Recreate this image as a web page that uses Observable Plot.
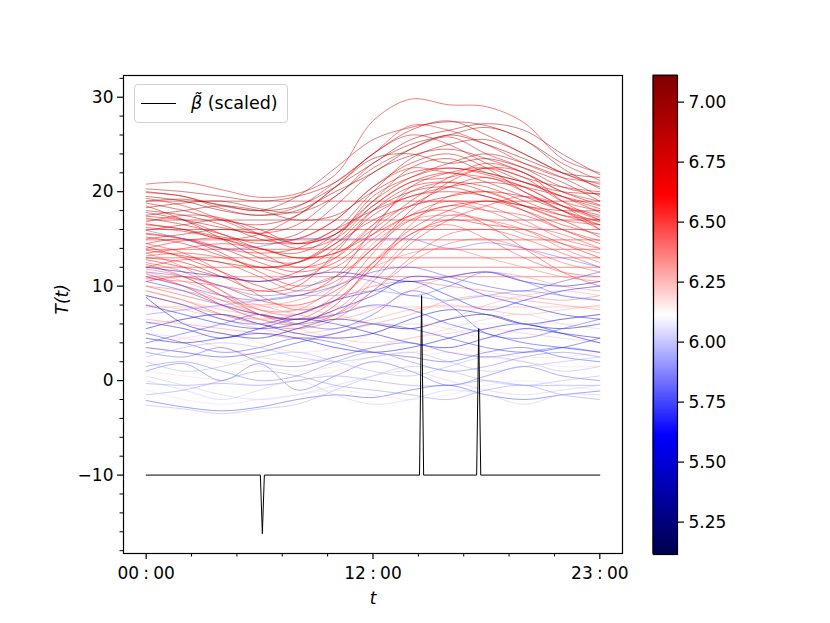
<!DOCTYPE html>
<html>
<head>
<meta charset="utf-8">
<script src="https://cdn.jsdelivr.net/npm/d3@7"></script>
<script src="https://cdn.jsdelivr.net/npm/@observablehq/plot@0.6"></script>
<style>
  body { margin: 0; background: #fff; }
  #fig { position: relative; width: 830px; height: 623px; font-family: "DejaVu Sans", sans-serif; }
  #main, #cbar { position: absolute; top: 0; }
  #main { left: 0; }
  #cbar { left: 640px; }
  #legend { position: absolute; left: 134px; top: 84px; width: 154px; height: 39px;
    border: 1px solid #d0d0d0; border-radius: 4px; background: rgba(255,255,255,0.85); box-sizing: border-box; }
  #legend .ln { position: absolute; left: 6px; top: 18px; width: 35px; border-top: 1px solid #000; }
  #legend .tx { position: absolute; left: 56px; top: 6px; font-size: 17.5px; line-height: 24px; color: #000; white-space: nowrap; }
</style>
</head>
<body>
<div id="fig">
  <div id="main"></div>
  <div id="cbar"></div>
  <div id="legend"><div class="ln"></div><div class="tx"><i>β̃</i> (scaled)</div></div>
</div>
<script>
// sample times (fraction of the day)
const times = [0, 0.083, 0.167, 0.25, 0.333, 0.417, 0.5, 0.583, 0.667, 0.75, 0.833, 0.917, 1];

// red curves (colour values) and their temperatures
const redColor = [6.7, 6.85, 6.6, 6.9, 6.75, 7.0, 6.95, 6.8, 6.7, 6.65, 6.6, 6.55, 6.5,
  6.9, 6.8, 6.7, 6.6, 6.75, 6.5, 6.6, 6.45, 6.55, 6.85, 7.05, 6.95, 6.65, 6.7, 6.55, 6.8,
  6.6, 6.9, 6.5, 6.75, 6.65, 6.85, 6.7, 6.95, 6.6, 6.45, 6.8, 6.55, 6.5,
  6.7, 6.95, 6.75, 6.55, 6.65, 6.85, 6.5, 6.6, 6.8, 6.45];
const redSeries = [
  [20.8, 21.0, 20.2, 19.4, 19.8, 21.8, 27.5, 29.8, 29.2, 29.0, 27.3, 23.5, 22.0],
  [19.0, 19.2, 18.6, 18.0, 19.5, 22.5, 25.5, 26.8, 27.4, 27.0, 25.5, 23.0, 21.2],
  [19.9, 19.5, 18.2, 17.5, 18.4, 21.0, 24.0, 27.0, 26.5, 25.0, 23.0, 21.5, 21.0],
  [18.3, 18.8, 19.0, 18.2, 17.8, 19.5, 23.0, 25.0, 26.0, 26.8, 25.5, 22.5, 20.3],
  [17.4, 17.0, 16.2, 15.6, 16.5, 19.5, 22.5, 24.5, 25.8, 24.0, 22.5, 20.5, 19.7],
  [19.0, 19.0, 19.0, 19.0, 19.0, 19.0, 19.0, 19.0, 19.0, 19.0, 19.0, 19.0, 19.0],
  [17.0, 17.0, 17.0, 17.0, 17.0, 17.0, 17.0, 17.0, 17.0, 17.0, 17.0, 17.0, 17.0],
  [16.0, 16.0, 16.0, 16.0, 16.0, 16.0, 16.0, 16.0, 16.0, 16.0, 16.0, 16.0, 16.0],
  [14.9, 14.9, 14.9, 14.9, 14.9, 14.9, 14.9, 14.9, 14.9, 14.9, 14.9, 14.9, 14.9],
  [13.9, 13.9, 13.9, 13.9, 13.9, 13.9, 13.9, 13.9, 13.9, 13.9, 13.9, 13.9, 13.9],
  [13.0, 13.0, 13.0, 13.0, 13.0, 13.0, 13.0, 13.0, 13.0, 13.0, 13.0, 13.0, 13.0],
  [12.0, 12.0, 12.0, 12.0, 12.0, 12.0, 12.0, 12.0, 12.0, 12.0, 12.0, 12.0, 12.0],
  [11.0, 11.0, 11.0, 11.0, 11.0, 11.0, 11.0, 11.0, 11.0, 11.0, 11.0, 11.0, 11.0],
  [16.6, 16.0, 15.2, 14.8, 15.5, 18.5, 22.0, 23.8, 24.5, 23.5, 22.0, 20.0, 18.6],
  [15.9, 16.5, 17.0, 16.0, 14.5, 15.5, 19.0, 22.5, 23.5, 22.0, 21.0, 19.5, 17.8],
  [15.2, 14.5, 13.2, 12.0, 12.5, 15.0, 19.5, 21.5, 22.5, 21.8, 20.5, 18.5, 17.3],
  [14.0, 14.8, 15.0, 13.5, 12.0, 13.0, 16.5, 20.0, 21.0, 20.5, 19.0, 17.5, 16.5],
  [13.0, 12.5, 11.0, 9.5, 10.0, 13.5, 18.0, 20.5, 21.0, 20.0, 18.5, 17.0, 15.2],
  [12.5, 11.5, 9.5, 7.5, 7.0, 9.0, 13.5, 17.5, 19.0, 18.5, 17.0, 15.0, 14.0],
  [11.3, 10.0, 8.0, 6.5, 6.0, 8.0, 12.5, 16.0, 18.0, 19.0, 18.0, 16.5, 15.5],
  [13.5, 12.0, 9.5, 7.0, 6.5, 7.5, 11.0, 15.0, 17.5, 17.0, 15.5, 14.5, 13.5],
  [14.5, 13.5, 11.5, 9.0, 7.5, 8.5, 12.0, 16.5, 19.5, 20.0, 18.5, 17.0, 16.5],
  [18.0, 17.5, 16.5, 15.0, 14.5, 16.0, 20.0, 23.5, 25.0, 25.5, 24.0, 22.0, 20.5],
  [19.5, 19.0, 18.0, 17.5, 18.0, 20.0, 22.0, 24.5, 26.0, 25.0, 23.5, 22.0, 21.5],
  [18.8, 18.0, 17.0, 16.5, 17.5, 20.5, 23.5, 24.0, 23.0, 23.5, 22.5, 21.0, 19.0],
  [16.8, 17.5, 17.2, 15.5, 14.0, 15.0, 18.5, 21.0, 21.5, 22.5, 21.5, 19.0, 18.0],
  [14.5, 15.0, 14.0, 12.5, 11.5, 12.5, 15.5, 18.5, 20.5, 21.5, 20.0, 18.0, 16.0],
  [12.0, 12.8, 12.5, 11.0, 9.5, 10.5, 14.0, 17.0, 18.5, 18.0, 17.5, 16.0, 14.8],
  [17.8, 17.0, 15.5, 14.0, 13.5, 15.5, 19.0, 21.5, 23.0, 24.0, 23.0, 21.5, 19.5],
  [10.5, 11.0, 10.0, 8.5, 8.0, 9.5, 12.5, 15.5, 17.0, 16.5, 16.0, 14.5, 13.0],
  [20.3, 20.0, 19.5, 19.0, 19.5, 21.0, 24.0, 26.5, 27.5, 26.0, 24.0, 22.0, 20.8],
  [9.5, 8.5, 7.0, 6.0, 5.5, 6.5, 9.5, 13.0, 15.5, 16.0, 15.0, 13.5, 12.0],
  [15.5, 15.0, 14.0, 13.5, 14.0, 16.0, 18.0, 19.5, 20.5, 21.0, 20.5, 19.5, 18.5],
  [16.2, 15.8, 15.0, 14.0, 13.0, 13.5, 15.5, 17.5, 18.5, 19.0, 18.5, 17.5, 17.0],
  [13.8, 13.2, 12.5, 12.0, 12.5, 14.5, 17.0, 18.5, 19.5, 20.0, 19.5, 18.5, 17.5],
  [12.8, 12.0, 11.0, 10.5, 11.5, 14.0, 17.5, 19.5, 20.0, 19.5, 18.0, 16.0, 14.5],
  [17.5, 18.0, 18.5, 18.0, 17.0, 17.5, 20.0, 22.0, 22.5, 22.0, 21.0, 20.0, 19.8],
  [19.3, 18.5, 17.0, 15.5, 15.0, 17.0, 20.5, 22.5, 22.0, 21.5, 20.5, 18.5, 17.0],
  [11.8, 11.0, 9.0, 7.5, 7.5, 10.0, 14.5, 17.0, 17.5, 17.0, 16.0, 14.0, 12.5],
  [15.0, 15.5, 16.0, 15.5, 14.5, 15.5, 18.5, 21.0, 22.0, 21.0, 19.5, 18.0, 16.8],
  [13.2, 13.5, 13.0, 12.0, 11.0, 12.0, 15.0, 17.5, 18.0, 16.5, 14.0, 11.5, 10.0],
  [10.0, 9.0, 8.0, 7.0, 6.5, 8.5, 12.0, 15.5, 16.5, 15.0, 13.0, 11.5, 11.0],
  [14.2, 13.0, 11.5, 10.0, 9.0, 11.0, 16.0, 20.5, 22.0, 22.5, 21.0, 19.5, 18.2],
  [20.0, 19.5, 18.5, 18.0, 18.5, 20.5, 23.0, 25.5, 26.5, 27.2, 26.5, 24.0, 21.8],
  [16.5, 16.0, 15.0, 15.5, 17.5, 20.5, 24.0, 26.0, 25.0, 23.0, 21.5, 20.5, 20.0],
  [12.3, 11.0, 9.0, 7.0, 6.0, 7.0, 10.5, 14.5, 17.0, 18.5, 19.5, 18.5, 16.0],
  [15.6, 15.0, 13.5, 11.5, 10.0, 11.0, 14.0, 18.0, 21.0, 22.5, 22.0, 19.0, 17.0],
  [18.5, 17.0, 15.0, 13.0, 12.5, 14.5, 18.0, 20.0, 20.5, 19.5, 18.5, 18.0, 18.0],
  [10.8, 10.5, 10.0, 9.5, 10.5, 13.0, 16.5, 18.5, 19.0, 18.0, 16.5, 15.5, 14.0],
  [13.5, 14.0, 14.5, 14.0, 13.0, 13.5, 16.0, 19.0, 21.5, 23.0, 22.0, 20.0, 19.0],
  [17.2, 16.5, 15.5, 14.5, 15.0, 17.0, 20.5, 23.0, 24.0, 22.5, 20.0, 18.0, 16.5],
  [11.0, 10.0, 8.5, 7.0, 6.5, 7.0, 9.5, 12.5, 14.5, 15.0, 14.0, 12.5, 11.5]
];

// pale curves near the centre of the colour range
const paleColor = [6.3, 6.35, 6.25, 6.4, 6.2, 6.3, 6.35, 6.25, 6.4, 6.2, 6.3, 6.22];
const paleSeries = [
  [8.0, 7.5, 6.5, 5.5, 5.0, 5.5, 6.5, 7.5, 8.0, 7.5, 7.0, 7.5, 8.0],
  [6.5, 6.0, 5.5, 5.0, 4.5, 5.0, 6.0, 7.0, 8.5, 9.0, 8.5, 8.0, 7.5],
  [5.0, 4.5, 3.5, 2.5, 2.0, 2.5, 3.5, 4.5, 5.0, 5.5, 5.0, 4.5, 4.0],
  [9.0, 8.0, 7.0, 6.5, 7.0, 8.5, 10.0, 10.5, 10.0, 9.5, 9.0, 8.5, 9.0],
  [3.5, 3.0, 2.0, 1.5, 1.0, 1.5, 2.5, 3.0, 3.5, 3.0, 2.5, 2.5, 3.0],
  [7.8, 7.8, 7.8, 7.8, 7.8, 7.8, 7.8, 7.8, 7.8, 7.8, 7.8, 7.8, 7.8],
  [11.5, 10.5, 9.0, 8.0, 7.0, 6.5, 7.5, 9.5, 11.0, 11.5, 11.0, 10.0, 9.5],
  [6.0, 6.5, 7.0, 6.5, 5.5, 4.5, 4.0, 4.5, 5.5, 6.5, 7.0, 6.0, 5.5],
  [10.0, 9.5, 8.5, 8.0, 8.5, 10.0, 12.0, 13.5, 14.0, 13.0, 12.0, 11.0, 10.5],
  [1.0, 0.5, 0.0, -0.5, 0.0, 1.0, 2.0, 2.5, 3.0, 2.5, 2.0, 1.5, 1.5],
  [9.5, 8.5, 7.5, 7.0, 7.5, 7.0, 6.0, 5.5, 6.5, 8.0, 9.0, 9.5, 9.0],
  [4.0, 4.5, 5.0, 4.0, 3.0, 3.5, 5.0, 6.0, 5.5, 4.5, 5.5, 6.5, 7.0]
];

// blue curves
const blueColor = [5.35, 5.6, 5.75, 5.8, 5.9, 5.75, 5.95, 5.8, 5.65, 5.8, 5.5, 5.75, 5.95,
  6.0, 5.5, 5.85, 5.7, 5.9, 5.7, 5.6, 6.05, 5.85, 5.65, 5.75, 6.05, 5.95, 5.8, 6.0];
const blueSeries = [
  [8.8, 6.0, 5.0, 4.5, 5.5, 6.5, 6.0, 5.5, 6.5, 7.0, 6.0, 5.5, 6.0],
  [6.2, 5.5, 4.5, 5.5, 6.5, 6.0, 5.0, 4.0, 3.5, 4.5, 5.5, 5.0, 4.5],
  [5.0, 4.0, 3.0, 3.5, 4.5, 4.0, 3.0, 2.5, 2.0, 3.0, 3.5, 2.5, 2.0],
  [1.0, 1.8, 0.0, 1.8, -1.0, 0.5, 2.0, 1.0, -0.5, 0.5, 1.5, 0.5, 0.0],
  [-0.3, -0.5, -0.3, -0.5, 0.0, 0.5, 0.0, -0.5, -0.5, 0.0, -0.5, -0.5, -0.5],
  [-2.1, -2.8, -3.2, -2.8, -2.0, -1.5, -1.8, -1.0, -0.5, -1.5, -2.0, -1.5, -1.1],
  [-2.6, -3.0, -3.5, -3.0, -2.5, -1.0, 0.5, 1.5, 1.0, 0.0, -0.5, 0.0, 0.5],
  [3.0, 2.5, 3.5, 2.0, 1.5, 2.5, 3.5, 4.0, 3.0, 2.5, 3.0, 3.5, 3.0],
  [9.0, 8.0, 6.5, 6.0, 7.0, 8.5, 9.5, 10.5, 9.0, 7.5, 8.5, 9.5, 10.0],
  [15.9, 15.0, 14.0, 14.2, 15.0, 15.0, 15.0, 15.0, 14.0, 14.6, 14.0, 13.0, 12.0],
  [12.0, 11.5, 11.0, 10.5, 11.0, 11.5, 11.0, 10.5, 11.0, 11.5, 10.5, 10.0, 10.5],
  [4.0, 5.0, 6.0, 7.0, 6.0, 5.5, 7.0, 9.5, 8.0, 5.0, 4.5, 5.5, 6.5],
  [2.0, 1.0, 1.5, 2.5, 3.0, 2.0, 1.0, 0.5, 1.5, 2.5, 2.0, 1.0, 1.5],
  [0.5, -0.5, -1.5, -2.0, -1.5, -0.5, 0.5, 1.0, 0.0, -1.0, -1.5, -1.0, -0.5],
  [5.5, 6.5, 7.0, 6.0, 5.0, 4.5, 5.0, 6.5, 7.5, 7.0, 6.0, 6.5, 7.0],
  [7.0, 7.5, 8.0, 8.5, 9.0, 9.0, 9.5, 9.0, 8.5, 9.0, 9.5, 9.0, 8.5],
  [3.5, 3.0, 2.5, 3.0, 4.0, 5.0, 6.0, 5.5, 4.5, 3.5, 3.0, 3.5, 4.5],
  [-1.5, -1.0, 0.0, 1.0, 0.5, -0.5, -1.0, -1.5, -2.0, -1.0, -0.5, -1.5, -2.0],
  [10.5, 9.5, 8.0, 7.0, 6.5, 7.0, 8.0, 7.5, 6.0, 5.0, 4.0, 3.5, 3.0],
  [4.5, 4.0, 4.5, 5.0, 4.5, 3.5, 3.0, 3.5, 4.5, 5.5, 6.0, 5.0, 4.0],
  [6.0, 6.0, 6.0, 6.0, 6.0, 6.0, 6.0, 6.0, 6.0, 6.0, 6.0, 6.0, 6.0],
  [1.5, 2.0, 1.0, 0.0, 0.5, 2.0, 3.0, 2.0, 1.0, 1.5, 2.5, 3.0, 2.5],
  [8.0, 7.0, 6.0, 5.5, 6.0, 7.5, 9.0, 11.0, 10.5, 9.0, 8.0, 7.0, 6.5],
  [11.0, 10.0, 9.0, 8.5, 9.0, 10.0, 11.5, 12.0, 11.0, 10.0, 9.5, 10.5, 11.5],
  [-1.0, -2.0, -2.5, -2.0, -1.5, -1.0, -1.5, -2.0, -1.5, -0.5, 0.0, -0.5, -1.0],
  [2.5, 3.5, 4.0, 3.5, 2.5, 2.0, 2.5, 3.0, 2.0, 1.0, 1.5, 2.0, 2.5],
  [11.5, 11.0, 10.0, 9.0, 9.5, 11.0, 10.5, 9.0, 10.0, 11.5, 10.5, 9.0, 8.5],
  [0.0, -1.0, -2.0, -1.0, 0.0, -1.5, -2.5, -2.0, -1.0, -1.5, -2.5, -1.5, -1.5]
];

// scaled beta curve (breakpoints)
const betaT = [0, 0.2517, 0.2561, 0.2605, 0.6026, 0.6071, 0.6116, 0.7285, 0.733, 0.7375, 1];
const betaV = [-10, -10, -16.2, -10, -10, 9.0, -10, -10, 5.5, -10, -10];

// axis ticks
const xTicks = [0, 0.5, 1];
const xTickLabels = ["00\u2005:\u200500", "12\u2005:\u200500", "23\u2005:\u200500"];
const xMinor = [0.1, 0.2, 0.3, 0.4, 0.6, 0.7, 0.8, 0.9];
const yTicks = [-10, 0, 10, 20, 30];
const yMinor = [-18, -16, -14, -12, -8, -6, -4, -2, 2, 4, 6, 8, 12, 14, 16, 18, 22, 24, 26, 28, 32];
const cbTicks = [5.25, 5.5, 5.75, 6.0, 6.25, 6.5, 6.75, 7.0];
const cbRange = [5.115, 7.111];

// seismic colour map
const cmapStops = [5.115, 5.614, 6.113, 6.612, 7.111];
const cmapColors = ["rgb(0,0,77)", "rgb(0,0,255)", "rgb(255,255,255)", "rgb(255,0,0)", "rgb(128,0,0)"];

const colorOpts = { type: "linear", domain: cmapStops, range: cmapColors, interpolate: "rgb" };

const allSeries = redSeries.concat(paleSeries, blueSeries);
const allColor = redColor.concat(paleColor, blueColor);
const rows = [];
allSeries.forEach((s, i) => s.forEach((v, j) => rows.push({ t: times[j], v, c: allColor[i], id: i })));
const betaRows = betaT.map((t, i) => ({ t, v: betaV[i] }));

const font = { fontFamily: "DejaVu Sans, sans-serif", fontSize: "17px", background: "transparent", overflow: "visible" };

const main = Plot.plot({
  width: 640, height: 623,
  marginLeft: 123, marginRight: 18, marginTop: 75, marginBottom: 70,
  style: font,
  x: { domain: [-0.05, 1.05] },
  y: { domain: [-18.3, 32.3] },
  color: colorOpts,
  marks: [
    Plot.line(rows, { x: "t", y: "v", z: "id", stroke: "c", strokeWidth: 1, strokeOpacity: 0.5, curve: "catmull-rom" }),
    Plot.line(betaRows, { x: "t", y: "v", stroke: "black", strokeWidth: 1 }),
    Plot.frame({ stroke: "black", strokeWidth: 1.2 }),
    Plot.axisX({ ticks: xTicks, tickFormat: d => xTickLabels[xTicks.indexOf(d)], tickSize: 6, tickPadding: 7, strokeWidth: 1.2, label: null, fontSize: 17, fill: "black" }),
    Plot.axisX({ ticks: xMinor, tickSize: 3.5, strokeWidth: 1, text: null, label: null }),
    Plot.axisY({ ticks: yTicks, tickSize: 6, tickPadding: 4, strokeWidth: 1.2, label: null, fontSize: 17, fill: "black" }),
    Plot.axisY({ ticks: yMinor, tickSize: 3.5, strokeWidth: 1, text: null, label: null }),
    Plot.text(["T(t)"], { frameAnchor: "left", dx: -61, rotate: -90, text: d => d, fontStyle: "italic", fontSize: 17, fill: "black" }),
    Plot.text(["t"], { frameAnchor: "bottom", dy: 50, text: d => d, fontStyle: "italic", fontSize: 17, fill: "black" })
  ]
});
document.getElementById("main").appendChild(main);

const cbSteps = d3.range(cbRange[0], cbRange[1], 0.004);
const cbar = Plot.plot({
  width: 190, height: 623,
  marginLeft: 13, marginRight: 153, marginTop: 75, marginBottom: 69,
  style: font,
  x: { domain: [0, 1], axis: null },
  y: { domain: cbRange },
  color: colorOpts,
  marks: [
    Plot.rect(cbSteps, { x1: () => 0, x2: () => 1, y1: d => d, y2: d => Math.min(d + 0.004, cbRange[1]), fill: d => d + 0.002, stroke: d => d + 0.002, strokeWidth: 1 }),
    Plot.frame({ stroke: "black", strokeWidth: 1.2 }),
    Plot.axisY({ anchor: "right", ticks: cbTicks, tickFormat: d3.format(".2f"), tickSize: 6, tickPadding: 5, strokeWidth: 1.2, label: null, fontSize: 17, fill: "black" })
  ]
});
document.getElementById("cbar").appendChild(cbar);
</script>
</body>
</html>
